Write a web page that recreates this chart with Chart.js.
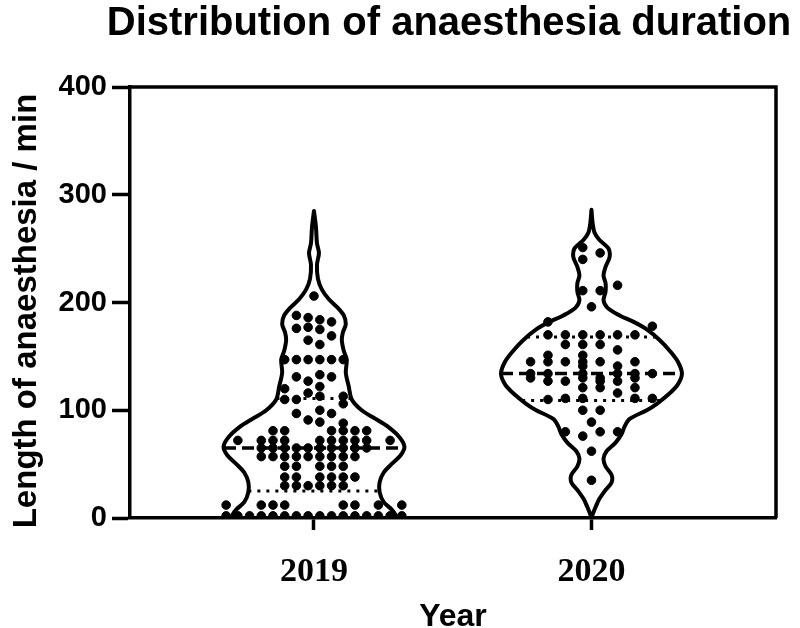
<!DOCTYPE html>
<html><head><meta charset="utf-8">
<script src="https://cdn.jsdelivr.net/npm/chart.js@4.4.1/dist/chart.umd.min.js"></script>
<style>html,body{margin:0;padding:0;background:#fff}</style>
</head><body>
<canvas id="c" width="800" height="628"></canvas>
<script>
// ---------- data ----------
const years = ['2019', '2020'];
const yTicks = [0, 100, 200, 300, 400];

// individual durations (min) and their beeswarm slot (column) within the violin
const dur2019 = [206, 188, 186, 184, 182, 176, 177, 175, 169, 165, 161,
  147, 147, 147, 147, 147, 147,
  131, 127, 133, 131, 120, 122,
  110, 110, 116, 113, 113, 106,
  97, 100, 97, 91, 89, 88,
  81, 81, 81, 81, 81, 81,
  72, 72, 72, 72, 72, 72, 72, 72, 72, 72,
  65, 65, 65, 65, 65, 65, 65, 65, 65, 65,
  57, 57, 57, 57, 57, 57, 57, 57, 57,
  48, 48, 48, 48, 48,
  38, 38, 38, 38, 38, 38,
  30, 30, 30, 30, 30, 30,
  12, 12, 12, 12, 12, 12, 12, 12,
  2, 2, 2, 2, 2, 2, 2, 2, 2, 2, 2, 2, 2, 2, 2, 2];
const slot2019 = [0.5, -1, 0, 1, 2, -1, 0, 1, 2, 0, 1,
  -2, -1, 0, 1, 2, 3,
  -1, 0, 1, 2, -2, 1,
  -2, -1, 0, 1, 3, 3,
  -1, 1, 2, 0, 1, 3,
  -3, -2, 2, 3, 4, 5,
  -6, -4, -3, -2, 1, 2, 3, 4, 5, 7,
  -4, -3, -2, -1, 0, 1, 2, 3, 4, 5,
  -4, -3, -2, -1, 0, 1, 2, 3, 4,
  -2, -1, 1, 2, 3,
  -2, -1, 1, 2, 3, 4,
  -2, -1, 0, 1, 2, 3,
  -7, -4, -3, -2, 3, 4, 6, 8,
  -7, -6, -5, -4, -3, -2, -1, 0, 1, 2, 3, 4, 5, 6, 7, 8];

const dur2020 = [251, 246, 240, 216, 211, 211, 196, 182, 178,
  170, 170, 170, 170, 170, 170,
  161, 161, 161, 156, 151, 151,
  145, 145, 145, 145, 145, 145,
  141, 141,
  134, 134, 134, 134, 134, 134,
  130, 130, 130, 130,
  127, 127, 127, 127,
  121, 121, 121, 116,
  111, 111, 111, 111, 110,
  100, 100, 89, 80, 80, 80, 76, 62, 35];
const slot2020 = [0, 1, 0, 2, 0, 1, 0.5, -2, 4,
  -2, -1, 0, 1, 2, 3,
  -1, 0, 1, 2, -2, 0,
  -3, -2, -1, 0, 1, 3,
  0, 2,
  -3, -2, 0, 2, 3, 4,
  -3, 0, 1, 3,
  -2, -1, 1, 2,
  0, 1, 3, 2,
  -1, 0, 3, 4, -2,
  0, 1, 0.5, -1, 1, 2, 0, 0.5, 0.5];

// violin density profiles (relative half-width at each level)
const prof2019Level = [0, 3, 8, 15, 24, 33, 42, 50, 58, 66, 75, 85, 92, 100, 110, 122, 135, 147, 155, 165, 172, 180, 188, 195, 203, 212, 222, 235, 246, 255, 270, 285];
const prof2019Dens  = [82, 82, 78, 70, 66, 66, 70, 78, 87, 91, 86, 74, 62, 48, 38, 35, 32, 33, 30, 28, 29, 32, 30, 24, 15, 8, 4, 3, 5, 3, 2, 0];
const prof2020Level = [0, 3, 10, 18, 26, 33, 40, 48, 55, 62, 70, 78, 85, 92, 100, 106, 115, 124, 134, 145, 155, 165, 175, 182, 188, 195, 202, 210, 218, 225, 233, 242, 250, 258, 265, 275, 286];
const prof2020Dens  = [0, 1, 4, 8, 14, 20, 20, 14, 12, 15, 24, 30, 33, 38, 55, 65, 77, 86, 90, 86, 78, 68, 55, 42, 28, 16, 12, 14, 14, 12, 14, 18, 17, 8, 3, 1, 0];

const medians = [65, 134];
const q1s = [25, 109];
const q3s = [111, 168];

// ---------- build ----------
const VIOLIN_HALF = 0.326;          // max half width in category units
const SLOT = [0.0422, 0.0627];      // dot column spacing per group (category units)

function widthAt(levels, dens, v) {
  const mx = Math.max(...dens);
  for (let i = 0; i < levels.length - 1; i++) {
    if (v >= levels[i] && v <= levels[i + 1]) {
      const t = (v - levels[i]) / (levels[i + 1] - levels[i]);
      return (dens[i] + t * (dens[i + 1] - dens[i])) / mx * VIOLIN_HALF;
    }
  }
  return 0;
}
function outline(levels, dens, c) {
  const mx = Math.max(...dens);
  const right = levels.map((v, i) => ({ x: c + dens[i] / mx * VIOLIN_HALF, y: v }));
  const left = levels.map((v, i) => ({ x: c - dens[i] / mx * VIOLIN_HALF, y: v })).reverse();
  return right.concat(left);
}
function hline(levels, dens, c, v) {
  const w = widthAt(levels, dens, v);
  return [{ x: c - w, y: v }, { x: c + w, y: v }];
}
function dots(vals, slots, c, s) {
  return vals.map((v, i) => ({ x: c + (slots[i] - 0.5) * s, y: v }));
}

const profs = [[prof2019Level, prof2019Dens], [prof2020Level, prof2020Dens]];
const datasets = [];
profs.forEach((p, g) => {
  datasets.push({ data: outline(p[0], p[1], g), showLine: true, pointRadius: 0, borderColor: '#000', borderWidth: 4, tension: 0.3, fill: false, order: 3, borderJoinStyle: 'round' });
  datasets.push({ data: hline(p[0], p[1], g, medians[g]), showLine: true, pointRadius: 0, borderColor: '#000', borderWidth: 3.5, borderDash: [12, 6], order: 2 });
  datasets.push({ data: hline(p[0], p[1], g, q1s[g]), showLine: true, pointRadius: 0, borderColor: '#000', borderWidth: 3, borderDash: [3, 6], order: 2 });
  datasets.push({ data: hline(p[0], p[1], g, q3s[g]), showLine: true, pointRadius: 0, borderColor: '#000', borderWidth: 3, borderDash: [3, 6], order: 2 });
});
datasets.push({ data: dots(dur2019, slot2019, 0, SLOT[0]), pointRadius: 4.3, pointBackgroundColor: '#000', pointBorderColor: '#000', pointBorderWidth: 1, showLine: false, order: 1 });
datasets.push({ data: dots(dur2020, slot2020, 1, SLOT[1]), pointRadius: 4.3, pointBackgroundColor: '#000', pointBorderColor: '#000', pointBorderWidth: 1, showLine: false, order: 1 });

const decor = {
  id: 'decor',
  beforeDatasetsDraw(chart) {
    const a = chart.chartArea, ctx = chart.ctx;
    ctx.save();
    ctx.strokeStyle = '#000'; ctx.lineWidth = 3.5;
    ctx.beginPath();
    ctx.moveTo(a.left, a.top); ctx.lineTo(a.right, a.top); ctx.lineTo(a.right, a.bottom);
    ctx.stroke();
    ctx.restore();
  },
  afterDraw(chart) {
    const a = chart.chartArea, ctx = chart.ctx;
    ctx.save();
    ctx.fillStyle = '#000';
    ctx.textAlign = 'center';
    ctx.textBaseline = 'alphabetic';
    ctx.font = 'bold 40px "Liberation Sans", Arial, sans-serif';
    ctx.fillText('Distribution of anaesthesia duration', 449, 35);
    ctx.font = 'bold 32px "Liberation Sans", Arial, sans-serif';
    ctx.fillText('Year', (a.left + a.right) / 2, 626);
    ctx.translate(36, 311);
    ctx.rotate(-Math.PI / 2);
    ctx.font = 'bold 33px "Liberation Sans", Arial, sans-serif';
    ctx.fillText('Length of anaesthesia / min', 0, 0);
    ctx.restore();
  }
};

new Chart(document.getElementById('c'), {
  type: 'scatter',
  data: { datasets },
  plugins: [decor],
  options: {
    responsive: false,
    animation: false,
    devicePixelRatio: 1,
    layout: { padding: { top: 87, right: 24, left: 0, bottom: 0 } },
    plugins: { legend: { display: false }, tooltip: { enabled: false }, title: { display: false } },
    scales: {
      x: {
        type: 'linear', min: -0.663, max: 1.665,
        afterBuildTicks: s => { s.ticks = years.map((_, i) => ({ value: i })); },
        afterFit: s => { s.height = 110; },
        ticks: { callback: (v, i) => years[i], color: '#000', autoSkip: false, maxRotation: 0, padding: 22,
                 font: { family: '"Liberation Serif", "Times New Roman", serif', weight: 'bold', size: 34 } },
        grid: { drawOnChartArea: false, tickLength: 12, tickWidth: 3.5, color: '#000' },
        border: { width: 3.5, color: '#000' }
      },
      y: {
        min: 0, max: 400,
        afterBuildTicks: s => { s.ticks = yTicks.map(v => ({ value: v })); },
        afterFit: s => { s.width = 130; },
        ticks: { color: '#000', padding: 5,
                 font: { family: '"Liberation Sans", Arial, sans-serif', weight: 'bold', size: 29 } },
        grid: { drawOnChartArea: false, tickLength: 18, tickWidth: 3.5, color: '#000' },
        border: { width: 3.5, color: '#000' }
      }
    }
  }
});
</script>
</body></html>
